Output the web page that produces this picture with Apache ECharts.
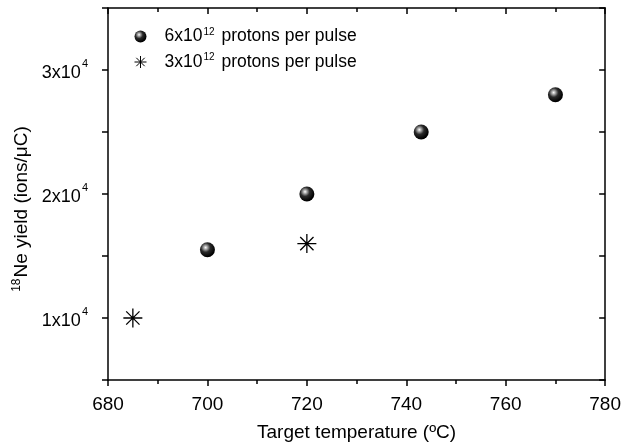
<!DOCTYPE html>
<html>
<head>
<meta charset="utf-8">
<script src="https://cdn.jsdelivr.net/npm/echarts@6/dist/echarts.min.js"></script>
<style>html,body{margin:0;padding:0;background:#fff;}#c{width:624px;height:447px;}</style>
</head>
<body>
<div id="c"></div>
<script>
var highTemps = [700, 720, 743, 770];
var highYield = [15500, 20000, 25000, 28000];
var lowTemps = [685, 720];
var lowYield = [10000, 16000];
var yTickMantissa = {10000: '1', 20000: '2', 30000: '3'};
var legendMant = {high: '6', low: '3'};

var FONT = 'Liberation Sans, Arial, sans-serif';
var chart = echarts.init(document.getElementById('c'));

var sphere = {
  type: 'radial', x: 0.38, y: 0.35, r: 0.62,
  colorStops: [
    {offset: 0, color: '#ffffff'},
    {offset: 0.18, color: '#b0b0b0'},
    {offset: 0.5, color: '#2a2a2a'},
    {offset: 1, color: '#000000'}
  ]
};
var starPath = 'path://M10 0 L10 20 M0 10 L20 10 M3 3 L17 17 M3 17 L17 3';

function zip(a, b) { return a.map(function (v, i) { return [v, b[i]]; }); }

chart.setOption({
  animation: false,
  backgroundColor: '#fff',
  grid: {left: 108, right: 17, top: 8, bottom: 67},
  legend: {
    orient: 'vertical', left: 127, top: 22, itemGap: 7,
    itemWidth: 26, itemHeight: 12,
    data: [
      {name: 'high', icon: 'circle', itemStyle: {color: sphere}},
      {name: 'low', icon: starPath, itemStyle: {color: 'none', borderColor: '#000', borderWidth: 1}}
    ],
    formatter: function (n) { return '{t|' + legendMant[n] + 'x10}{s|12}{t| protons per pulse}'; },
    textStyle: {
      padding: [0, 0, 0, 6],
      rich: {
        t: {fontFamily: FONT, fontSize: 17.5, color: '#000'},
        s: {fontFamily: FONT, fontSize: 10, color: '#000', verticalAlign: 'top', padding: [0, 2, 9, 1]}
      }
    }
  },
  xAxis: [{
    type: 'value', min: 680, max: 780, interval: 20,
    name: 'Target temperature (ºC)', nameLocation: 'middle', nameGap: 43,
    nameTextStyle: {fontFamily: FONT, fontSize: 19, color: '#000'},
    axisLine: {show: true, onZero: false, lineStyle: {color: '#000', width: 1.5}},
    axisTick: {show: true, inside: false, length: 6, lineStyle: {color: '#000', width: 1.5}},
    minorTick: {show: true, splitNumber: 2, length: 4, lineStyle: {color: '#000', width: 1.5}},
    axisLabel: {fontFamily: FONT, fontSize: 19, color: '#000', margin: 15},
    splitLine: {show: false}
  }, {
    type: 'value', min: 680, max: 780, interval: 20, position: 'top',
    axisLine: {show: true, onZero: false, lineStyle: {color: '#000', width: 1.5}},
    axisTick: {show: true, inside: true, length: 6, lineStyle: {color: '#000', width: 1.5}},
    minorTick: {show: true, splitNumber: 2, length: 4, lineStyle: {color: '#000', width: 1.5}},
    axisLabel: {show: false}, splitLine: {show: false}
  }],
  yAxis: [{
    type: 'value', min: 5000, max: 35000, interval: 5000,
    name: '{s|18}{t|Ne yield (ions/μC)}', nameLocation: 'middle', nameGap: 74, nameRotate: 90,
    nameTextStyle: {
      rich: {
        t: {fontFamily: FONT, fontSize: 19, color: '#000', padding: [0, 30, 0, 0]},
        s: {fontFamily: FONT, fontSize: 12, color: '#000', verticalAlign: 'top', padding: [0, 1, 9, 0]}
      }
    },
    axisLine: {show: true, onZero: false, lineStyle: {color: '#000', width: 1.5}},
    axisTick: {show: true, inside: false, length: 6, lineStyle: {color: '#000', width: 1.5}},
    axisLabel: {
      margin: 20,
      formatter: function (v) {
        if (yTickMantissa[v]) return '{b|' + yTickMantissa[v] + 'x10}{s|4}';
        return '';
      },
      rich: {
        b: {fontFamily: FONT, fontSize: 18, color: '#000', padding: [6, 0, 0, 0]},
        s: {fontFamily: FONT, fontSize: 11, color: '#000', verticalAlign: 'top', padding: [0, 0, 6, 1]}
      }
    },
    splitLine: {show: false}
  }, {
    type: 'value', min: 5000, max: 35000, interval: 5000, position: 'right',
    axisLine: {show: true, onZero: false, lineStyle: {color: '#000', width: 1.5}},
    axisTick: {show: true, inside: true, length: 6, lineStyle: {color: '#000', width: 1.5}},
    axisLabel: {show: false}, splitLine: {show: false}
  }],
  series: [{
    name: 'high', type: 'scatter', symbol: 'circle', symbolSize: 15,
    itemStyle: {color: sphere, opacity: 1},
    data: zip(highTemps, highYield)
  }, {
    name: 'low', type: 'scatter', symbol: starPath, symbolSize: 19,
    itemStyle: {color: 'none', borderColor: '#000', borderWidth: 1.3, opacity: 1},
    data: zip(lowTemps, lowYield)
  }]
});
</script>
</body>
</html>
